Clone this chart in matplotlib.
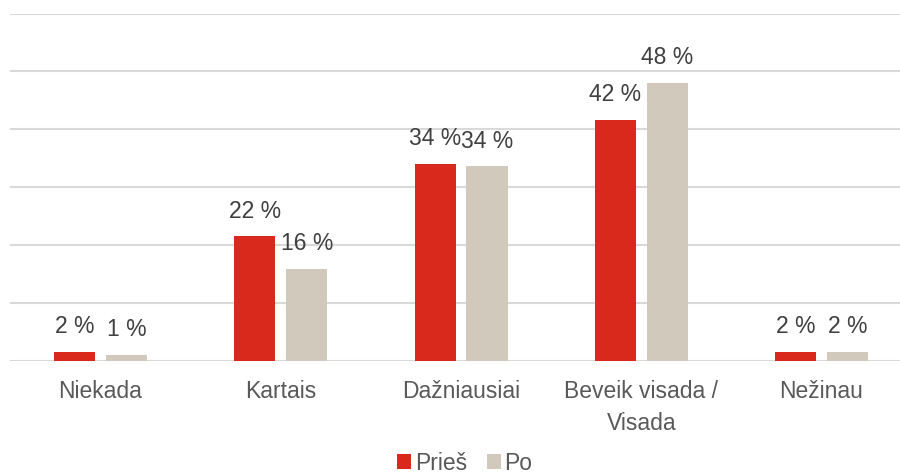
import matplotlib.pyplot as plt
import numpy as np

plt.rcParams['font.family'] = ['Liberation Sans', 'DejaVu Sans']

# === DATA ===
categories = ["Niekada", "Kartais", "Dažniausiai", "Beveik visada /\nVisada", "Nežinau"]
pries = [1.6, 21.5, 34.0, 41.6, 1.6]
po = [1.0, 15.9, 33.6, 48.0, 1.6]
series_names = ["Prieš", "Po"]

RED = "#D9291C"
BEIGE = "#D0C9BC"
FS = 16.5

fig = plt.figure(figsize=(9, 4.76), dpi=100)
# category slots are ~180 px wide, last one runs past the right edge
ax = fig.add_axes([10.4 / 900, 1 - 361 / 476, 901.25 / 900, (361 - 13.5) / 476])

x = np.arange(len(categories))
w = 0.228
off = 0.144
b1 = ax.bar(x - off, pries, w, color=RED, label=series_names[0], zorder=3)
b2 = ax.bar(x + off, po, w, color=BEIGE, label=series_names[1], zorder=3)

for bars, vals in ((b1, pries), (b2, po)):
    for rect, v in zip(bars, vals):
        ax.annotate(f"{round(v)} %", (rect.get_x() + rect.get_width() / 2, v),
                    xytext=(0, 10), textcoords="offset points",
                    ha="center", va="bottom", fontsize=FS, color="#404040")

ax.set_xlim(-0.5, len(categories) - 0.5)
ax.set_ylim(0, 60)
ax.set_yticks(np.arange(0, 61, 10))
ax.yaxis.grid(True, color="#D9D9D9", linewidth=1.5, zorder=0)
ax.tick_params(axis="y", left=False, labelleft=False)
ax.tick_params(axis="x", length=0, pad=14, labelsize=FS, labelcolor="#595959")
ax.set_xticks(x)
ax.set_xticklabels(categories, linespacing=1.45, va="top")
for s in ax.spines.values():
    s.set_visible(False)

fig.legend(handles=[b1, b2], loc="center", bbox_to_anchor=(465 / 900, 1 - 463 / 476),
           ncol=2, frameon=False, fontsize=FS, handlelength=0.6, handleheight=0.6,
           handletextpad=0.15, columnspacing=0.9, labelcolor="#595959",
           borderpad=0.1)

fig.savefig("out.png", dpi=100)
